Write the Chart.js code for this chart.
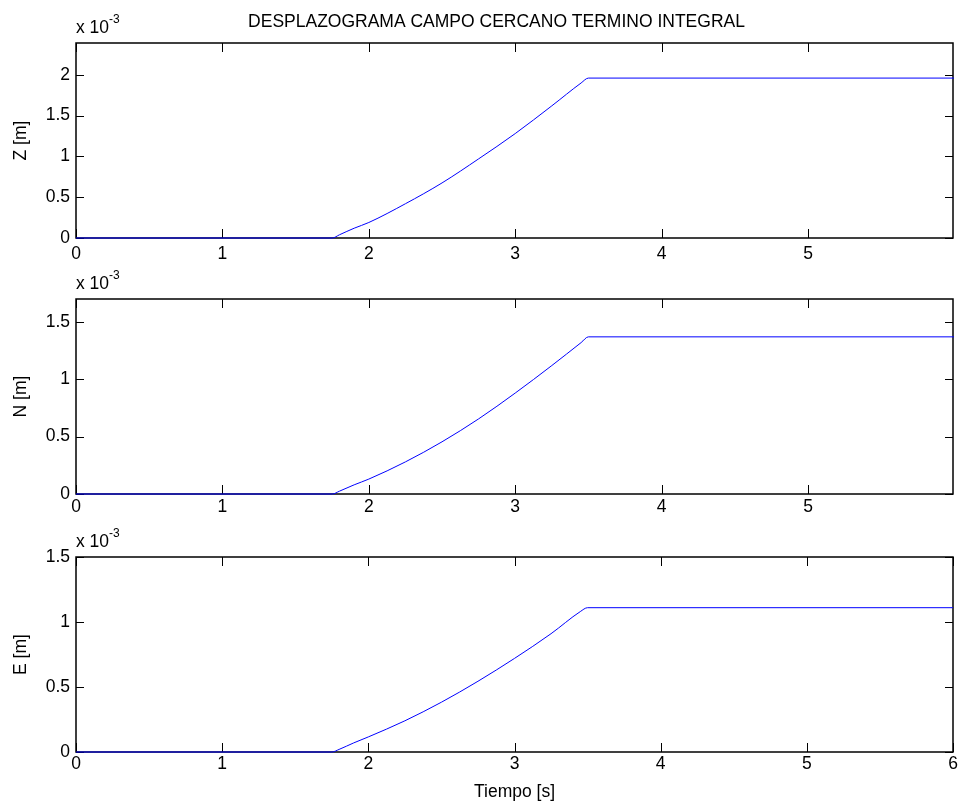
<!DOCTYPE html>
<html>
<head>
<meta charset="utf-8">
<title>Desplazograma campo cercano</title>
<script src="https://cdn.jsdelivr.net/npm/chart.js@4"></script>
<style>
  body { margin: 0; background: #fff; }
  #wrap { position: relative; width: 963px; height: 806px; }
  #wrap canvas { position: absolute; left: 0; }
</style>
</head>
<body>
<div id="wrap">
  <canvas id="chartZ" width="963" height="264" style="top:0;width:963px;height:264px"></canvas>
  <canvas id="chartN" width="963" height="264" style="top:264px;width:963px;height:264px"></canvas>
  <canvas id="chartE" width="963" height="278" style="top:528px;width:963px;height:278px"></canvas>
</div>
<script>
// tiempo [s] y desplazamientos en unidades de 1e-3 m
const tiempo = [0, 1.75, 1.8, 1.9, 2.0, 2.25, 2.5, 2.75, 3.0, 3.25, 3.45, 3.5, 6];
const desplZ = [0, 0, 0.04, 0.12, 0.19, 0.42, 0.675, 0.97, 1.28, 1.62, 1.90, 1.96, 1.96];
const desplN = [0, 0, 0.025, 0.08, 0.13, 0.28, 0.455, 0.655, 0.88, 1.12, 1.32, 1.37, 1.37];
const desplE = [0, 0, 0.02, 0.07, 0.116, 0.24, 0.383, 0.544, 0.72, 0.91, 1.08, 1.11, 1.11];

const xTicksArriba = [0, 1, 2, 3, 4, 5];
const xTicksAbajo = [0, 1, 2, 3, 4, 5, 6];
const yTicksZ = [0, 0.5, 1, 1.5, 2];
const yTicksN = [0, 0.5, 1, 1.5];
const yTicksE = [0, 0.5, 1, 1.5];
const limitesX = [5.99, 5.99, 6];
const limitesY = [2.39, 1.7, 1.5];

const FUENTE = '"Liberation Sans", Arial, Helvetica, sans-serif';
const TAM = 17.5;

// marco tipo matlab: caja, ticks hacia dentro, factor x 10^-3 y titulo
const marcoMatlab = {
  id: 'marcoMatlab',
  beforeDatasetsDraw(chart, args, opts) {
    const { ctx, chartArea: a, scales: { x, y } } = chart;
    ctx.save();
    ctx.strokeStyle = '#000';
    ctx.lineWidth = 1;
    ctx.beginPath();
    x.ticks.forEach(t => {
      const px = Math.round(x.getPixelForValue(t.value)) + 0.5;
      ctx.moveTo(px, a.top); ctx.lineTo(px, a.top + 9);
      ctx.moveTo(px, a.bottom); ctx.lineTo(px, a.bottom - 9);
    });
    y.ticks.forEach(t => {
      const py = Math.round(y.getPixelForValue(t.value)) + 0.5;
      ctx.moveTo(a.left, py); ctx.lineTo(a.left + 8, py);
      ctx.moveTo(a.right, py); ctx.lineTo(a.right - 8, py);
    });
    ctx.stroke();
    ctx.lineWidth = 1.5;
    ctx.strokeRect(a.left, a.top, a.width, a.height);

    ctx.fillStyle = '#000';
    ctx.textAlign = 'left';
    ctx.textBaseline = 'alphabetic';
    ctx.font = TAM + 'px ' + FUENTE;
    const base = 'x 10';
    ctx.fillText(base, a.left, a.top - 10.5);
    const w = ctx.measureText(base).width;
    ctx.font = '12px ' + FUENTE;
    ctx.fillText('-3', a.left + w, a.top - 20);

    if (opts.titulo) {
      ctx.font = TAM + 'px ' + FUENTE;
      ctx.textAlign = 'center';
      ctx.fillText(opts.titulo, 496.5, 26.7);
    }
    ctx.restore();
  }
};

function crearGrafico(id, valores, etiquetaY, yTicks, i, opciones) {
  const xTicks = i === 2 ? xTicksAbajo : xTicksArriba;
  const fuente = { family: FUENTE, size: TAM };
  return new Chart(document.getElementById(id), {
    type: 'line',
    data: {
      datasets: [{
        data: tiempo.map((t, k) => ({ x: t, y: valores[k] })),
        borderColor: '#0000ff',
        borderWidth: 1,
        pointRadius: 0,
        cubicInterpolationMode: 'monotone',
        clip: 1
      }]
    },
    options: {
      responsive: false,
      animation: false,
      events: [],
      layout: { padding: { left: 0, right: 10, top: opciones.padTop, bottom: 0 } },
      plugins: {
        legend: { display: false },
        tooltip: { enabled: false },
        marcoMatlab: { titulo: opciones.titulo }
      },
      scales: {
        x: {
          type: 'linear',
          min: 0,
          max: limitesX[i],
          grid: { display: false, drawTicks: false },
          border: { display: false },
          afterBuildTicks: s => { s.ticks = xTicks.map(v => ({ value: v })); },
          afterFit: s => { s.height = opciones.altoX; },
          ticks: { color: '#000', font: fuente, padding: opciones.padTicksX, maxRotation: 0, callback: v => String(v) },
          title: {
            display: !!opciones.tituloX,
            text: opciones.tituloX || '',
            color: '#000',
            font: fuente,
            padding: { top: 0, bottom: 3 }
          }
        },
        y: {
          min: 0,
          max: limitesY[i],
          grid: { display: false, drawTicks: false },
          border: { display: false },
          afterBuildTicks: s => { s.ticks = yTicks.map(v => ({ value: v })); },
          afterFit: s => { s.width = 76; },
          ticks: { color: '#000', font: fuente, padding: 6, callback: v => String(v) },
          title: {
            display: true,
            text: etiquetaY,
            color: '#000',
            font: fuente,
            padding: { top: 11, bottom: 0 }
          }
        }
      }
    },
    plugins: [marcoMatlab]
  });
}

crearGrafico('chartZ', desplZ, 'Z [m]', yTicksZ, 0,
  { padTop: 43, altoX: 26, padTicksX: 6, titulo: 'DESPLAZOGRAMA CAMPO CERCANO TERMINO INTEGRAL' });
crearGrafico('chartN', desplN, 'N [m]', yTicksN, 1,
  { padTop: 35, altoX: 34, padTicksX: 3 });
crearGrafico('chartE', desplE, 'E [m]', yTicksE, 2,
  { padTop: 29, altoX: 54, padTicksX: 2, tituloX: 'Tiempo [s]' });
</script>
</body>
</html>
